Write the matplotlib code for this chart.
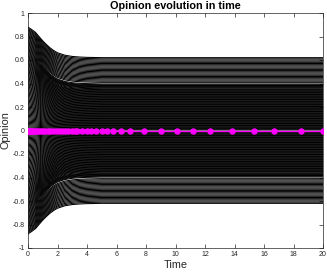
import numpy as np
import matplotlib
matplotlib.use("Agg")
import matplotlib.pyplot as plt

plt.rcParams['font.family'] = ['Liberation Sans', 'DejaVu Sans']

# Initial opinions of the agents (upper half; lower half is mirrored)
x0_upper = [0.01, 0.02, 0.03, 0.04, 0.05, 0.06, 0.07, 0.08, 0.09, 0.10,
            0.11, 0.12, 0.13, 0.14, 0.15, 0.16, 0.17, 0.18, 0.19, 0.20,
            0.21, 0.22, 0.23, 0.24, 0.25, 0.26, 0.27, 0.28, 0.29, 0.30,
            0.31, 0.32, 0.33, 0.34, 0.35, 0.36, 0.37, 0.38, 0.39, 0.40,
            0.41, 0.42, 0.43, 0.44, 0.45, 0.46, 0.47, 0.48, 0.49, 0.50,
            0.51, 0.52, 0.53, 0.54, 0.55, 0.56, 0.57, 0.58, 0.59, 0.60,
            0.61, 0.62, 0.63, 0.64, 0.65, 0.66, 0.67, 0.68, 0.69, 0.70,
            0.71, 0.72, 0.73, 0.74, 0.75, 0.76, 0.77, 0.78, 0.79, 0.80,
            0.81, 0.82, 0.83, 0.84, 0.85, 0.86, 0.87, 0.88]
# Final (steady-state) opinions of the same agents
xf_upper = [0.006, 0.012, 0.018, 0.024, 0.030, 0.036, 0.042, 0.048, 0.054, 0.060,
            0.066, 0.072, 0.078, 0.084, 0.090, 0.096, 0.102, 0.108, 0.114, 0.120,
            0.126, 0.132, 0.138, 0.144, 0.150, 0.156, 0.162, 0.168, 0.174, 0.180,
            0.186, 0.192, 0.198, 0.204, 0.210, 0.216, 0.222, 0.228, 0.234, 0.240,
            0.246, 0.252, 0.258, 0.264, 0.270, 0.276, 0.282, 0.288, 0.294, 0.300,
            0.306, 0.312, 0.318, 0.324, 0.330, 0.336, 0.342, 0.348, 0.355, 0.362,
            0.368, 0.373, 0.378, 0.383, 0.389, 0.396, 0.410, 0.420, 0.430, 0.440,
            0.450, 0.460, 0.470, 0.480, 0.490, 0.500, 0.510, 0.520, 0.530, 0.540,
            0.550, 0.560, 0.570, 0.580, 0.590, 0.600, 0.610, 0.620]
# Shared relaxation profile (fraction of the way to the final value)
t_profile = [0, 0.25, 0.5, 0.75, 1.0, 1.25, 1.5, 1.75, 2.0, 2.5, 3.0, 3.5, 4.0, 5.0, 6.0, 20.0]
progress = [0, 0.08, 0.17, 0.31, 0.45, 0.57, 0.68, 0.77, 0.84, 0.92, 0.96, 0.98, 0.99, 1.0, 1.0, 1.0]

# Solver time steps (magenta markers at the mean opinion 0)
t_steps = [0, 0.03, 0.07, 0.12, 0.18, 0.25, 0.33, 0.42, 0.52, 0.63, 0.75, 0.88, 1.02,
           1.17, 1.33, 1.50, 1.68, 1.87, 2.07, 2.28, 2.50, 2.72, 2.95, 3.19, 3.34,
           3.68, 3.98, 4.27, 4.59, 5.04, 5.36, 5.76, 6.28, 6.90, 7.84, 9.04, 10.08,
           11.20, 12.32, 13.85, 15.34, 16.68, 18.49, 20.0]
mean_op = [0.0] * len(t_steps)

x_ticks = [0, 2, 4, 6, 8, 10, 12, 14, 16, 18, 20]
y_ticks = [-1, -0.8, -0.6, -0.4, -0.2, 0, 0.2, 0.4, 0.6, 0.8, 1]
y_ticklabels = ['-1', '-0.8', '-0.6', '-0.4', '-0.2', '0', '0.2', '0.4', '0.6', '0.8', '1']

x0_all = np.array([-v for v in x0_upper[::-1]] + [0.0] + x0_upper)
xf_all = np.array([-v for v in xf_upper[::-1]] + [0.0] + xf_upper)
t = np.array(t_profile)
p = np.array(progress)

fig = plt.figure(figsize=(3.27, 2.73), dpi=100)
ax = fig.add_axes([28/327, 25/273, 295/327, 235/273])

for a, b in zip(x0_all, xf_all):
    ax.plot(t, a + (b - a) * p, color='black', lw=0.75, solid_joinstyle='round')

ax.plot(t_steps, mean_op, color='#ff00ff', lw=1.0, marker='o', ms=3.6,
        mec='#ff00ff', mfc='#ff00ff', zorder=5)

ax.set_xlim(0, 20)
ax.set_ylim(-1, 1)
ax.set_xticks(x_ticks)
ax.set_xticklabels([str(v) for v in x_ticks])
ax.set_yticks(y_ticks)
ax.set_yticklabels(y_ticklabels)
ax.tick_params(direction='in', length=3, width=0.5, labelsize=5,
               colors='#262626', top=True, right=True, pad=2.5)
for s in ax.spines.values():
    s.set_linewidth(0.5)
    s.set_color('#262626')
ax.set_title('Opinion evolution in time', fontsize=7.8, fontweight='bold', pad=3)
ax.set_xlabel('Time', fontsize=7.8, color='#262626', labelpad=1)
ax.set_ylabel('Opinion', fontsize=7.8, color='#262626', labelpad=1)

fig.savefig('out.png', dpi=100)
